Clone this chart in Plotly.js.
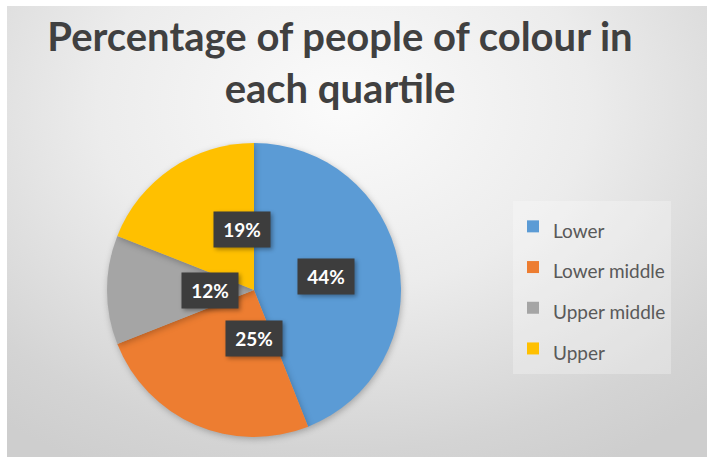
<!DOCTYPE html>
<html>
<head>
<meta charset="utf-8">
<script src="https://cdn.plot.ly/plotly-3.0.1.min.js"></script>
<style>
  html, body { margin: 0; padding: 0; background: #ffffff; }
  #frame {
    position: absolute; left: 7px; top: 6px; width: 700px; height: 451px;
    background: radial-gradient(ellipse 78% 90% at 48% 22%, #fbfbfb 0%, #ececec 45%, #d4d4d4 85%, #cecece 100%);
  }
  #chart { width: 700px; height: 451px; }
  .annotation rect.bg { filter: drop-shadow(2px 2px 2px rgba(0,0,0,0.35)); }
  .slice path.surface { filter: drop-shadow(1px 2px 3px rgba(0,0,0,0.25)); }
</style>
</head>
<body>
<div id="frame"><div id="chart"></div></div>
<script>
// Data
const categories = ["Lower", "Lower middle", "Upper middle", "Upper"];
const shares = [44, 25, 12, 19];
const sliceColors = ["#5B9BD5", "#ED7D31", "#A5A5A5", "#FFC000"];
const chartTitle = "Percentage of people of colour in<br>each quartile";

const W = 700, H = 451;
const pieCx = 247, pieCy = 284, pieR = 147;
const domX = [(pieCx - pieR) / W, (pieCx + pieR) / W];
const domY = [(H - pieCy - pieR) / H, (H - pieCy + pieR) / H];

// label positions derived from the slice values (mid angle, half radius)
const total = shares.reduce((a, b) => a + b, 0);
const cxp = (domX[0] + domX[1]) / 2, cyp = (domY[0] + domY[1]) / 2;
const rx = (domX[1] - domX[0]) / 2, ry = (domY[1] - domY[0]) / 2;
let acc = 0;
const annotations = shares.map((v) => {
  const mid = (acc + v / 2) / total * 2 * Math.PI;
  acc += v;
  return {
    xref: "paper", yref: "paper",
    x: cxp + 0.5 * rx * Math.sin(mid),
    y: cyp + 0.5 * ry * Math.cos(mid),
    text: Math.round(v / total * 100) + "%",
    showarrow: false,
    font: { family: "Lato, 'Open Sans', sans-serif", size: 19, color: "#ffffff", weight: "bold" },
    bgcolor: "#3d3d3d",
    borderpad: 6,
    width: 44,
    height: 23
  };
});

const trace = {
  type: "pie",
  labels: categories.map(c => '<span style="font-size:19px">' + c + '</span>'),
  values: shares,
  marker: { colors: sliceColors, line: { width: 0 } },
  sort: false,
  direction: "clockwise",
  rotation: 0,
  textinfo: "none",
  hoverinfo: "label+percent",
  domain: { x: domX, y: domY }
};

const layout = {
  width: W, height: H,
  margin: { l: 0, r: 0, t: 0, b: 0 },
  paper_bgcolor: "rgba(0,0,0,0)",
  plot_bgcolor: "rgba(0,0,0,0)",
  title: {
    text: chartTitle,
    font: { family: "Lato, 'Open Sans', sans-serif", size: 40, color: "#404040", weight: "bold" },
    x: 333 / W, xanchor: "center",
    xref: "paper",
    yref: "container", y: 1 - 45 / H, yanchor: "top"
  },
  showlegend: true,
  legend: {
    x: 506 / W, xanchor: "left",
    y: (H - 195) / H, yanchor: "top",
    bgcolor: "rgba(255,255,255,0.28)",
    borderwidth: 0,
    font: { family: "Lato, 'Open Sans', sans-serif", size: 29, color: "#595959" }
  },
  annotations: annotations
};

Plotly.newPlot("chart", [trace], layout, { displayModeBar: false, staticPlot: true });
</script>
</body>
</html>
